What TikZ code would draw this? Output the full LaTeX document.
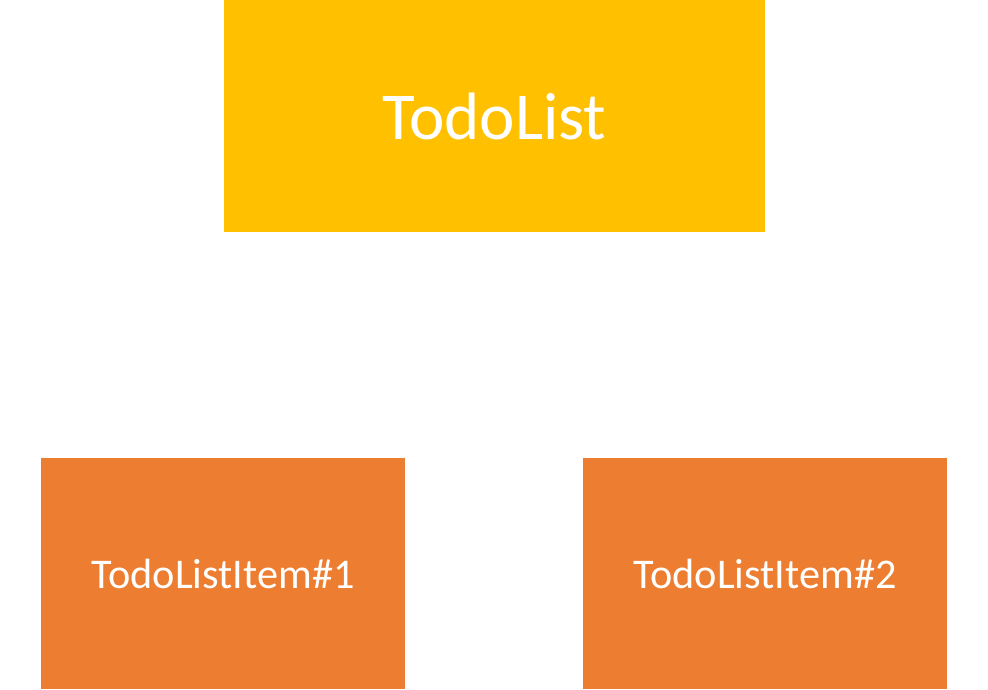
\documentclass[tikz,border=0pt]{standalone}
\usepackage{fontspec}
\setmainfont{Carlito}
\definecolor{topyellow}{HTML}{FFC000}
\definecolor{itemorange}{HTML}{ED7D31}
\begin{document}
\begin{tikzpicture}[x=1pt,y=-1pt,
  box/.style={inner sep=0pt, outer sep=0pt, text=white, anchor=center},
  topbox/.style={box, fill=topyellow, minimum width=541pt, minimum height=232pt, font=\fontsize{67}{72}\selectfont},
  itembox/.style={box, fill=itemorange, minimum width=364pt, minimum height=231pt, font=\fontsize{42.3}{46}\selectfont}]
\useasboundingbox (0,0) rectangle (988,689);
\node[topbox] (todolist) at (494.5,116) {TodoList};
\node[itembox] (item1) at (223,573.5) {TodoListItem\#1};
\node[itembox] (item2) at (765,573.5) {TodoListItem\#2};
\end{tikzpicture}
\end{document}
